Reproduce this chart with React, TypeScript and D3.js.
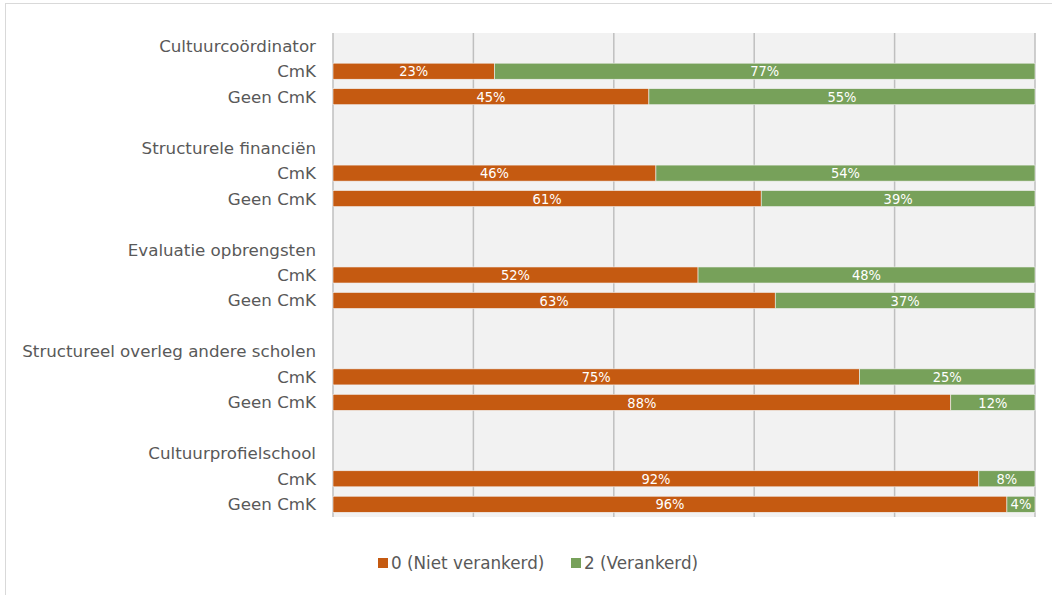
import React from "react";
import * as d3 from "d3";

const categories = [
  "Cultuurcoördinator",
  "Structurele financiën",
  "Evaluatie opbrengsten",
  "Structureel overleg andere scholen",
  "Cultuurprofielschool",
];
const groups = ["CmK", "Geen CmK"];
const nietVerankerd = [
  [23, 45],
  [46, 61],
  [52, 63],
  [75, 88],
  [92, 96],
];
const verankerd = [
  [77, 55],
  [54, 39],
  [48, 37],
  [25, 12],
  [8, 4],
];
const seriesNames = ["0 (Niet verankerd)", "2 (Verankerd)"];
const colors = ["#c55a11", "#77a15a"];
const xTicks = [0, 20, 40, 60, 80, 100];

const W = 1052;
const H = 595;
const plot = { left: 333, right: 1035, top: 33, bottom: 517 };
const FONT = "'DejaVu Sans', sans-serif";
const FONT_C = "'DejaVu Sans Condensed', 'DejaVu Sans', sans-serif";

export default function App() {
  const rows: { key: string; label: string; type: string; ci: number; gi: number }[] = [];
  categories.forEach((c, ci) => {
    rows.push({ key: `h${ci}`, label: c, type: "h", ci, gi: -1 });
    groups.forEach((g, gi) => rows.push({ key: `r${ci}-${gi}`, label: g, type: "b", ci, gi }));
    if (ci < categories.length - 1) rows.push({ key: `s${ci}`, label: "", type: "s", ci, gi: -1 });
  });

  const y = d3
    .scaleBand<string>()
    .domain(rows.map((r) => r.key))
    .range([plot.top, plot.bottom])
    .paddingInner(0.37)
    .paddingOuter(0.185);
  const x = d3.scaleLinear().domain([0, 100]).range([plot.left, plot.right]);
  const bw = y.bandwidth();

  return (
    <svg width={W} height={H} style={{ position: "absolute", left: 0, top: 0 }}>
      <rect x={0} y={0} width={W} height={H} fill="#fff" />
      <rect x={5.5} y={3.5} width={W + 10} height={H + 10} fill="#fff" stroke="#d9d9d9" />
      <rect x={plot.left} y={plot.top} width={plot.right - plot.left} height={plot.bottom - plot.top} fill="#f2f2f2" />
      {xTicks.map((t) => (
        <line key={t} x1={x(t)} x2={x(t)} y1={plot.top} y2={plot.bottom} stroke="#bfbfbf" strokeWidth={1.5} />
      ))}
      {rows.map((r) => {
        const yc = (y(r.key) as number) + bw / 2;
        if (r.type === "s") return null;
        return (
          <text
            key={`l${r.key}`}
            x={316}
            y={yc}
            dy="0.36em"
            textAnchor="end"
            fontFamily={FONT}
            fontSize={16.7}
            fill="#595959"
          >
            {r.label}
          </text>
        );
      })}
      {rows
        .filter((r) => r.type === "b")
        .map((r) => {
          const a = nietVerankerd[r.ci][r.gi];
          const b = verankerd[r.ci][r.gi];
          const y0 = y(r.key) as number;
          const segs = [
            { s: 0, v: a, c: colors[0] },
            { s: a, v: b, c: colors[1] },
          ];
          return (
            <g key={`b${r.key}`}>
              {segs.map((sg, i) => (
                <g key={i}>
                  <rect
                    x={x(sg.s)}
                    y={y0}
                    width={x(sg.s + sg.v) - x(sg.s)}
                    height={bw}
                    fill={sg.c}
                    stroke="#f2f2f2"
                    strokeWidth={0.6}
                  />
                  <text
                    x={(x(sg.s) + x(sg.s + sg.v)) / 2}
                    y={y0 + bw / 2}
                    dy="0.36em"
                    textAnchor="middle"
                    fontFamily={FONT_C}
                    fontSize={14.5}
                    fill="#fff"
                  >
                    {sg.v}%
                  </text>
                </g>
              ))}
            </g>
          );
        })}
      {seriesNames.map((n, i) => {
        const lx = [378, 571][i];
        return (
          <g key={n}>
            <rect x={lx} y={558} width={10} height={10} fill={colors[i]} />
            <text x={lx + 13} y={563} dy="0.36em" fontFamily={FONT} fontSize={16.8} fill="#595959">
              {n}
            </text>
          </g>
        );
      })}
    </svg>
  );
}
